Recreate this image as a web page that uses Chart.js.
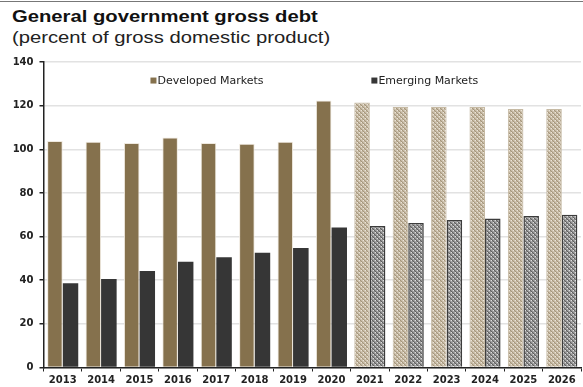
<!DOCTYPE html>
<html>
<head>
<meta charset="utf-8">
<script src="https://cdn.jsdelivr.net/npm/chart.js@4.4.1/dist/chart.umd.min.js"></script>
<style>
  html, body { margin: 0; padding: 0; background: #fff; }
  #wrap { position: relative; width: 583px; height: 387px; overflow: hidden; }
  #topRule { position: absolute; left: 0; top: 1px; width: 583px; height: 1px; background: #777; }
  .head { position: absolute; left: 12px; white-space: nowrap; transform-origin: 0 0; transform: scaleX(1.19);
    font-family: "Liberation Sans", Arial, sans-serif; font-size: 17px; }
  #title { top: 7px; font-weight: bold; color: #111; }
  #subtitle { top: 28px; color: #222; }
  canvas { position: absolute; left: 0; top: 0; }
</style>
</head>
<body>
<div id="wrap">
  <div id="topRule"></div>
  <div id="title" class="head">General government gross debt</div>
  <div id="subtitle" class="head">(percent of gross domestic product)</div>
  <canvas id="debtChart" width="583" height="387"></canvas>
</div>
<script>
const years = ["2013", "2014", "2015", "2016", "2017", "2018", "2019", "2020",
  "2021", "2022", "2023", "2024", "2025", "2026"];
const developed = [103.8, 103.4, 102.9, 105.4, 102.9, 102.5, 103.4, 122.3,
  121.4, 119.4, 119.4, 119.4, 118.5, 118.5];
const emerging = [38.6, 40.6, 44.2, 48.5, 50.5, 52.6, 54.8, 64.2,
  64.8, 66.2, 67.6, 68.3, 69.4, 70.0];
const firstForecast = "2021";
const yTicks = [0, 20, 40, 60, 80, 100, 120, 140];

const DM_COLOR = "#85714d";
const EM_COLOR = "#363636";
const TICK_FONT = '"DejaVu Sans", sans-serif';

// diagonal hatch tiles for projected years
function hatch(bg, line, light) {
  const c = document.createElement("canvas");
  c.width = 4; c.height = 4;
  const g = c.getContext("2d");
  g.fillStyle = bg;
  g.fillRect(0, 0, 4, 4);
  g.strokeStyle = line;
  g.lineWidth = 1.2;
  g.beginPath();
  g.moveTo(0, 0); g.lineTo(4, 4);
  g.moveTo(-2, 2); g.lineTo(2, 6);
  g.moveTo(2, -2); g.lineTo(6, 2);
  g.stroke();
  if (light) {
    g.fillStyle = light;
    g.fillRect(3, 0, 1, 1);
    g.fillRect(1, 2, 1, 1);
  }
  return g.createPattern(c, "repeat");
}

const ctx = document.getElementById("debtChart").getContext("2d");
const dmHatch = hatch("#d2c7b4", "#a4957a", "#ebe4d7");
const emHatch = hatch("#a8a8a8", "#5e5e5e", "#dddddd");

const forecastIdx = years.indexOf(firstForecast);
const isForecast = (i) => i >= forecastIdx;

// legend drawn inside the plot, two entries spread apart
const legendPlugin = {
  id: "spreadLegend",
  afterDraw(chart) {
    const c = chart.ctx;
    const area = chart.chartArea;
    const spots = [0.199, 0.61];
    const y = chart.scales.y.getPixelForValue(131.5);
    c.save();
    c.font = "11px " + TICK_FONT;
    c.textBaseline = "middle";
    chart.data.datasets.forEach((ds, i) => {
      const x = area.left + (area.right - area.left) * spots[i];
      c.fillStyle = ds.swatch;
      c.fillRect(x, y - 3, 6, 6);
      c.fillStyle = "#222";
      c.fillText(ds.label, x + 7, y + 0.5);
    });
    c.restore();
  }
};

new Chart(ctx, {
  type: "bar",
  data: {
    labels: years,
    datasets: [
      {
        label: "Developed Markets",
        data: developed,
        swatch: DM_COLOR,
        backgroundColor: developed.map((v, i) => isForecast(i) ? dmHatch : DM_COLOR),
        borderColor: developed.map((v, i) => isForecast(i) ? "#c6baa4" : "#efe9df"),
        borderWidth: { top: 1, left: 1, right: 1, bottom: 0 },
        categoryPercentage: 0.81,
        barPercentage: 1.0
      },
      {
        label: "Emerging Markets",
        data: emerging,
        swatch: EM_COLOR,
        backgroundColor: emerging.map((v, i) => isForecast(i) ? emHatch : EM_COLOR),
        borderColor: emerging.map((v, i) => isForecast(i) ? "#3c3c3c" : EM_COLOR),
        borderWidth: emerging.map((v, i) => isForecast(i) ? 1.5 : 0),
        categoryPercentage: 0.81,
        barPercentage: 1.0
      }
    ]
  },
  options: {
    responsive: false,
    animation: false,
    layout: { padding: { top: 62, right: 2, left: 0, bottom: 0 } },
    plugins: {
      legend: { display: false },
      tooltip: { enabled: false }
    },
    scales: {
      x: {
        offset: true,
        grid: {
          display: true,
          offset: true,
          drawOnChartArea: false,
          tickLength: 4,
          tickColor: "#222",
          lineWidth: 1
        },
        border: { color: "#222", width: 1.5 },
        ticks: {
          color: "#222",
          font: { family: TICK_FONT, size: 10, weight: "bold" },
          padding: 3,
          maxRotation: 0,
          autoSkip: false
        },
        afterFit(scale) { scale.height = 19.5; }
      },
      y: {
        min: 0,
        max: 140,
        afterBuildTicks(scale) { scale.ticks = yTicks.map(v => ({ value: v })); },
        grid: {
          color: "#e2e2e2",
          lineWidth: 1.5,
          tickLength: 4,
          tickColor: "#222"
        },
        border: { color: "#222", width: 1.5 },
        ticks: {
          color: "#222",
          font: { family: TICK_FONT, size: 10, weight: "bold" },
          padding: 6
        },
        afterFit(scale) { scale.width = 43.5; }
      }
    }
  },
  plugins: [legendPlugin]
});
</script>
</body>
</html>
